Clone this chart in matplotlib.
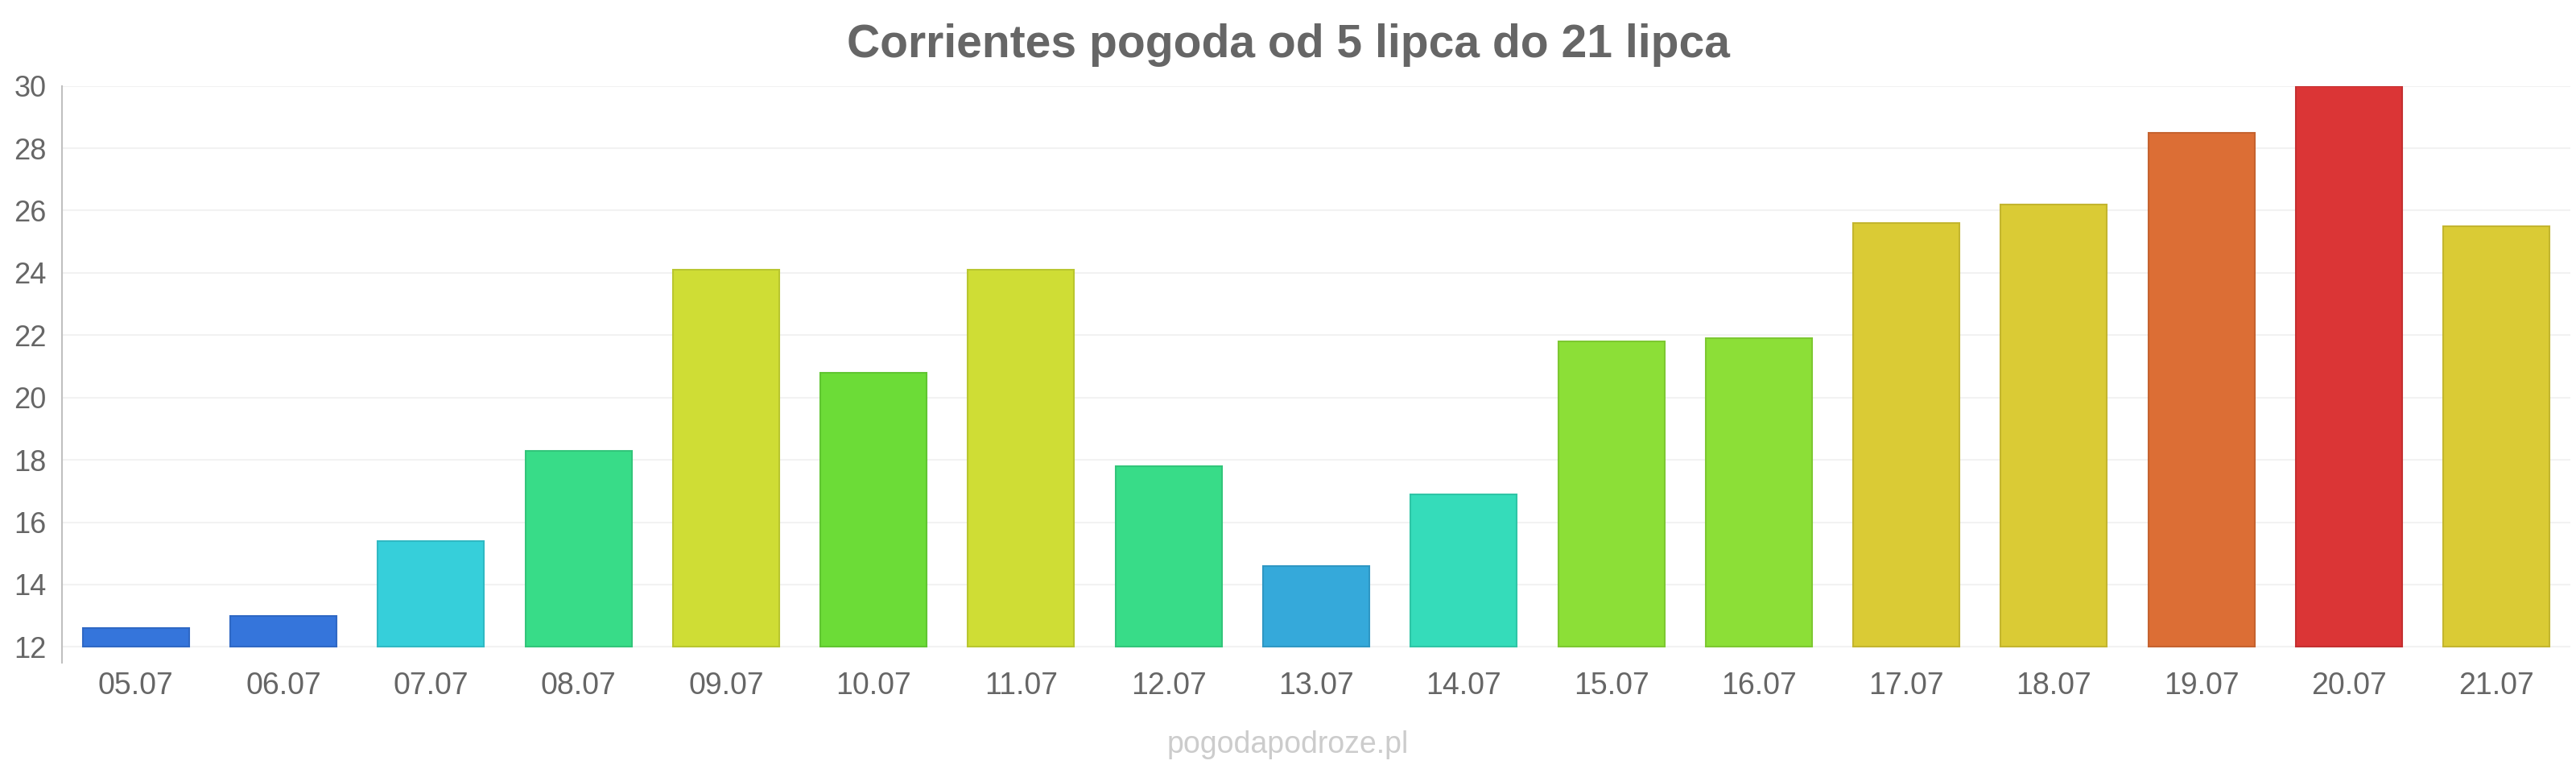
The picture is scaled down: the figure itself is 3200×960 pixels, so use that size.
import matplotlib.pyplot as plt

plt.rcParams["font.family"] = ["Liberation Sans", "DejaVu Sans"]

# daily temperatures
days = ["05.07", "06.07", "07.07", "08.07", "09.07", "10.07", "11.07", "12.07", "13.07",
        "14.07", "15.07", "16.07", "17.07", "18.07", "19.07", "20.07", "21.07"]
temps = [12.6, 13.0, 15.4, 18.3, 24.1, 20.8, 24.1, 17.8, 14.6,
         16.9, 21.8, 21.9, 25.6, 26.2, 28.5, 30.0, 25.5]
colors = ["#3575db", "#3575db", "#36cfda", "#38dc88", "#cfdd35", "#6cdc37", "#cfdd35",
          "#38dc88", "#35a9da", "#35dcba", "#8cdf37", "#8cdf37", "#dacb35", "#dacb35",
          "#dc6e35", "#db3536", "#dacb35"]
edges = ["#2f68c4", "#2f68c4", "#30b9c3", "#32c57a", "#b9c62f", "#60c531", "#b9c62f",
         "#32c57a", "#2f97c3", "#2fc5a6", "#7dc831", "#7dc831", "#c3b52f", "#c3b52f",
         "#c5622f", "#c42f30", "#c3b52f"]
y_ticks = [12, 14, 16, 18, 20, 22, 24, 26, 28, 30]
baseline = 12

text_color = "#666666"

fig = plt.figure(figsize=(32, 9.6), dpi=100)
ax = fig.add_axes([0.02406, 0.143, 0.97375, 0.7459])

x = list(range(len(days)))
ax.bar(x, [t - baseline for t in temps], bottom=baseline, width=0.72,
       color=colors, edgecolor=edges, linewidth=1.5, zorder=3)

ax.set_xlim(-0.5, len(days) - 0.5)
ax.set_ylim(11.5, 30)
ax.set_yticks(y_ticks)
ax.set_xticks(x)
ax.set_xticklabels(days)

ax.grid(axis="y", color="#f2f2f2", linewidth=1.5, zorder=0)
ax.grid(axis="x", visible=False)
for side in ["top", "right", "bottom"]:
    ax.spines[side].set_visible(False)
ax.spines["left"].set_color("#c0c0c0")
ax.spines["left"].set_linewidth(1.5)

ax.tick_params(axis="x", length=0, pad=8, labelsize=27, labelcolor=text_color)
ax.tick_params(axis="y", length=0, pad=14, labelsize=26, labelcolor=text_color)

fig.text(0.5, 0.942, "Corrientes pogoda od 5 lipca do 21 lipca", ha="center", va="center",
         fontsize=41, fontweight="bold", color=text_color)
fig.text(0.5, 0.036, "pogodapodroze.pl", ha="center", va="center",
         fontsize=27, color="#cccccc")

fig.savefig("out.png", dpi=100)
plt.close(fig)
